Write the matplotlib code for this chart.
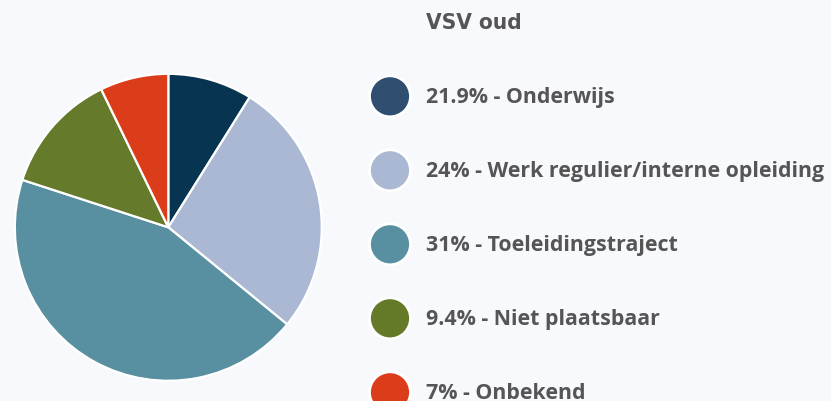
import matplotlib
matplotlib.use("Agg")
import matplotlib.pyplot as plt
from matplotlib.patches import Circle

# Data
categories = ["Onderwijs", "Werk regulier/interne opleiding", "Toeleidingstraject",
              "Niet plaatsbaar", "Onbekend"]
legend_pct = ["21.9%", "24%", "31%", "9.4%", "7%"]
slice_values = [8.9, 27.0, 44.1, 12.8, 7.2]
slice_colors = ["#073551", "#aab8d3", "#5890a1", "#657a2a", "#db3c1a"]
legend_colors = ["#2f4e70", "#aab8d3", "#5890a1", "#647a29", "#db3c1a"]
title = "VSV oud"

W, H = 831, 402
BG = "#f7f9fc"
TXT = "#555555"

fig = plt.figure(figsize=(W / 100, H / 100), dpi=100, facecolor=BG)

# Pie axes (pixel-placed)
cx, cy, r = 168.3, 228.3, 155.0
ax = fig.add_axes([(cx - r) / W, (H - cy - r) / H, 2 * r / W, 2 * r / H])
ax.set_facecolor(BG)
ax.pie(slice_values, colors=slice_colors, startangle=90, counterclock=False,
       radius=1.0, wedgeprops=dict(edgecolor="white", linewidth=1.6))
ax.set_xlim(-1.01, 1.01)
ax.set_ylim(-1.01, 1.01)
ax.set_aspect("equal")
ax.axis("off")

# Legend overlay in pixel coordinates
lax = fig.add_axes([0, 0, 1, 1], facecolor="none")
lax.set_xlim(0, W)
lax.set_ylim(H, 0)
lax.axis("off")

lax.text(426, 29, title, fontsize=16.2, fontweight="bold", color=TXT,
         family="DejaVu Sans", fontstretch="condensed", va="baseline", ha="left")

y0, dy = 97.3, 74.0
for i, (pct, cat, col) in enumerate(zip(legend_pct, categories, legend_colors)):
    y = y0 + i * dy
    lax.add_patch(Circle((390, y), 20.5, facecolor=col, edgecolor="white",
                         linewidth=2.0, clip_on=False))
    lax.text(426, y + 6, f"{pct} - {cat}", fontsize=15.4, fontweight="bold",
             color=TXT, family="Open Sans", va="baseline", ha="left")

fig.savefig("out.png", dpi=100, facecolor=BG)
